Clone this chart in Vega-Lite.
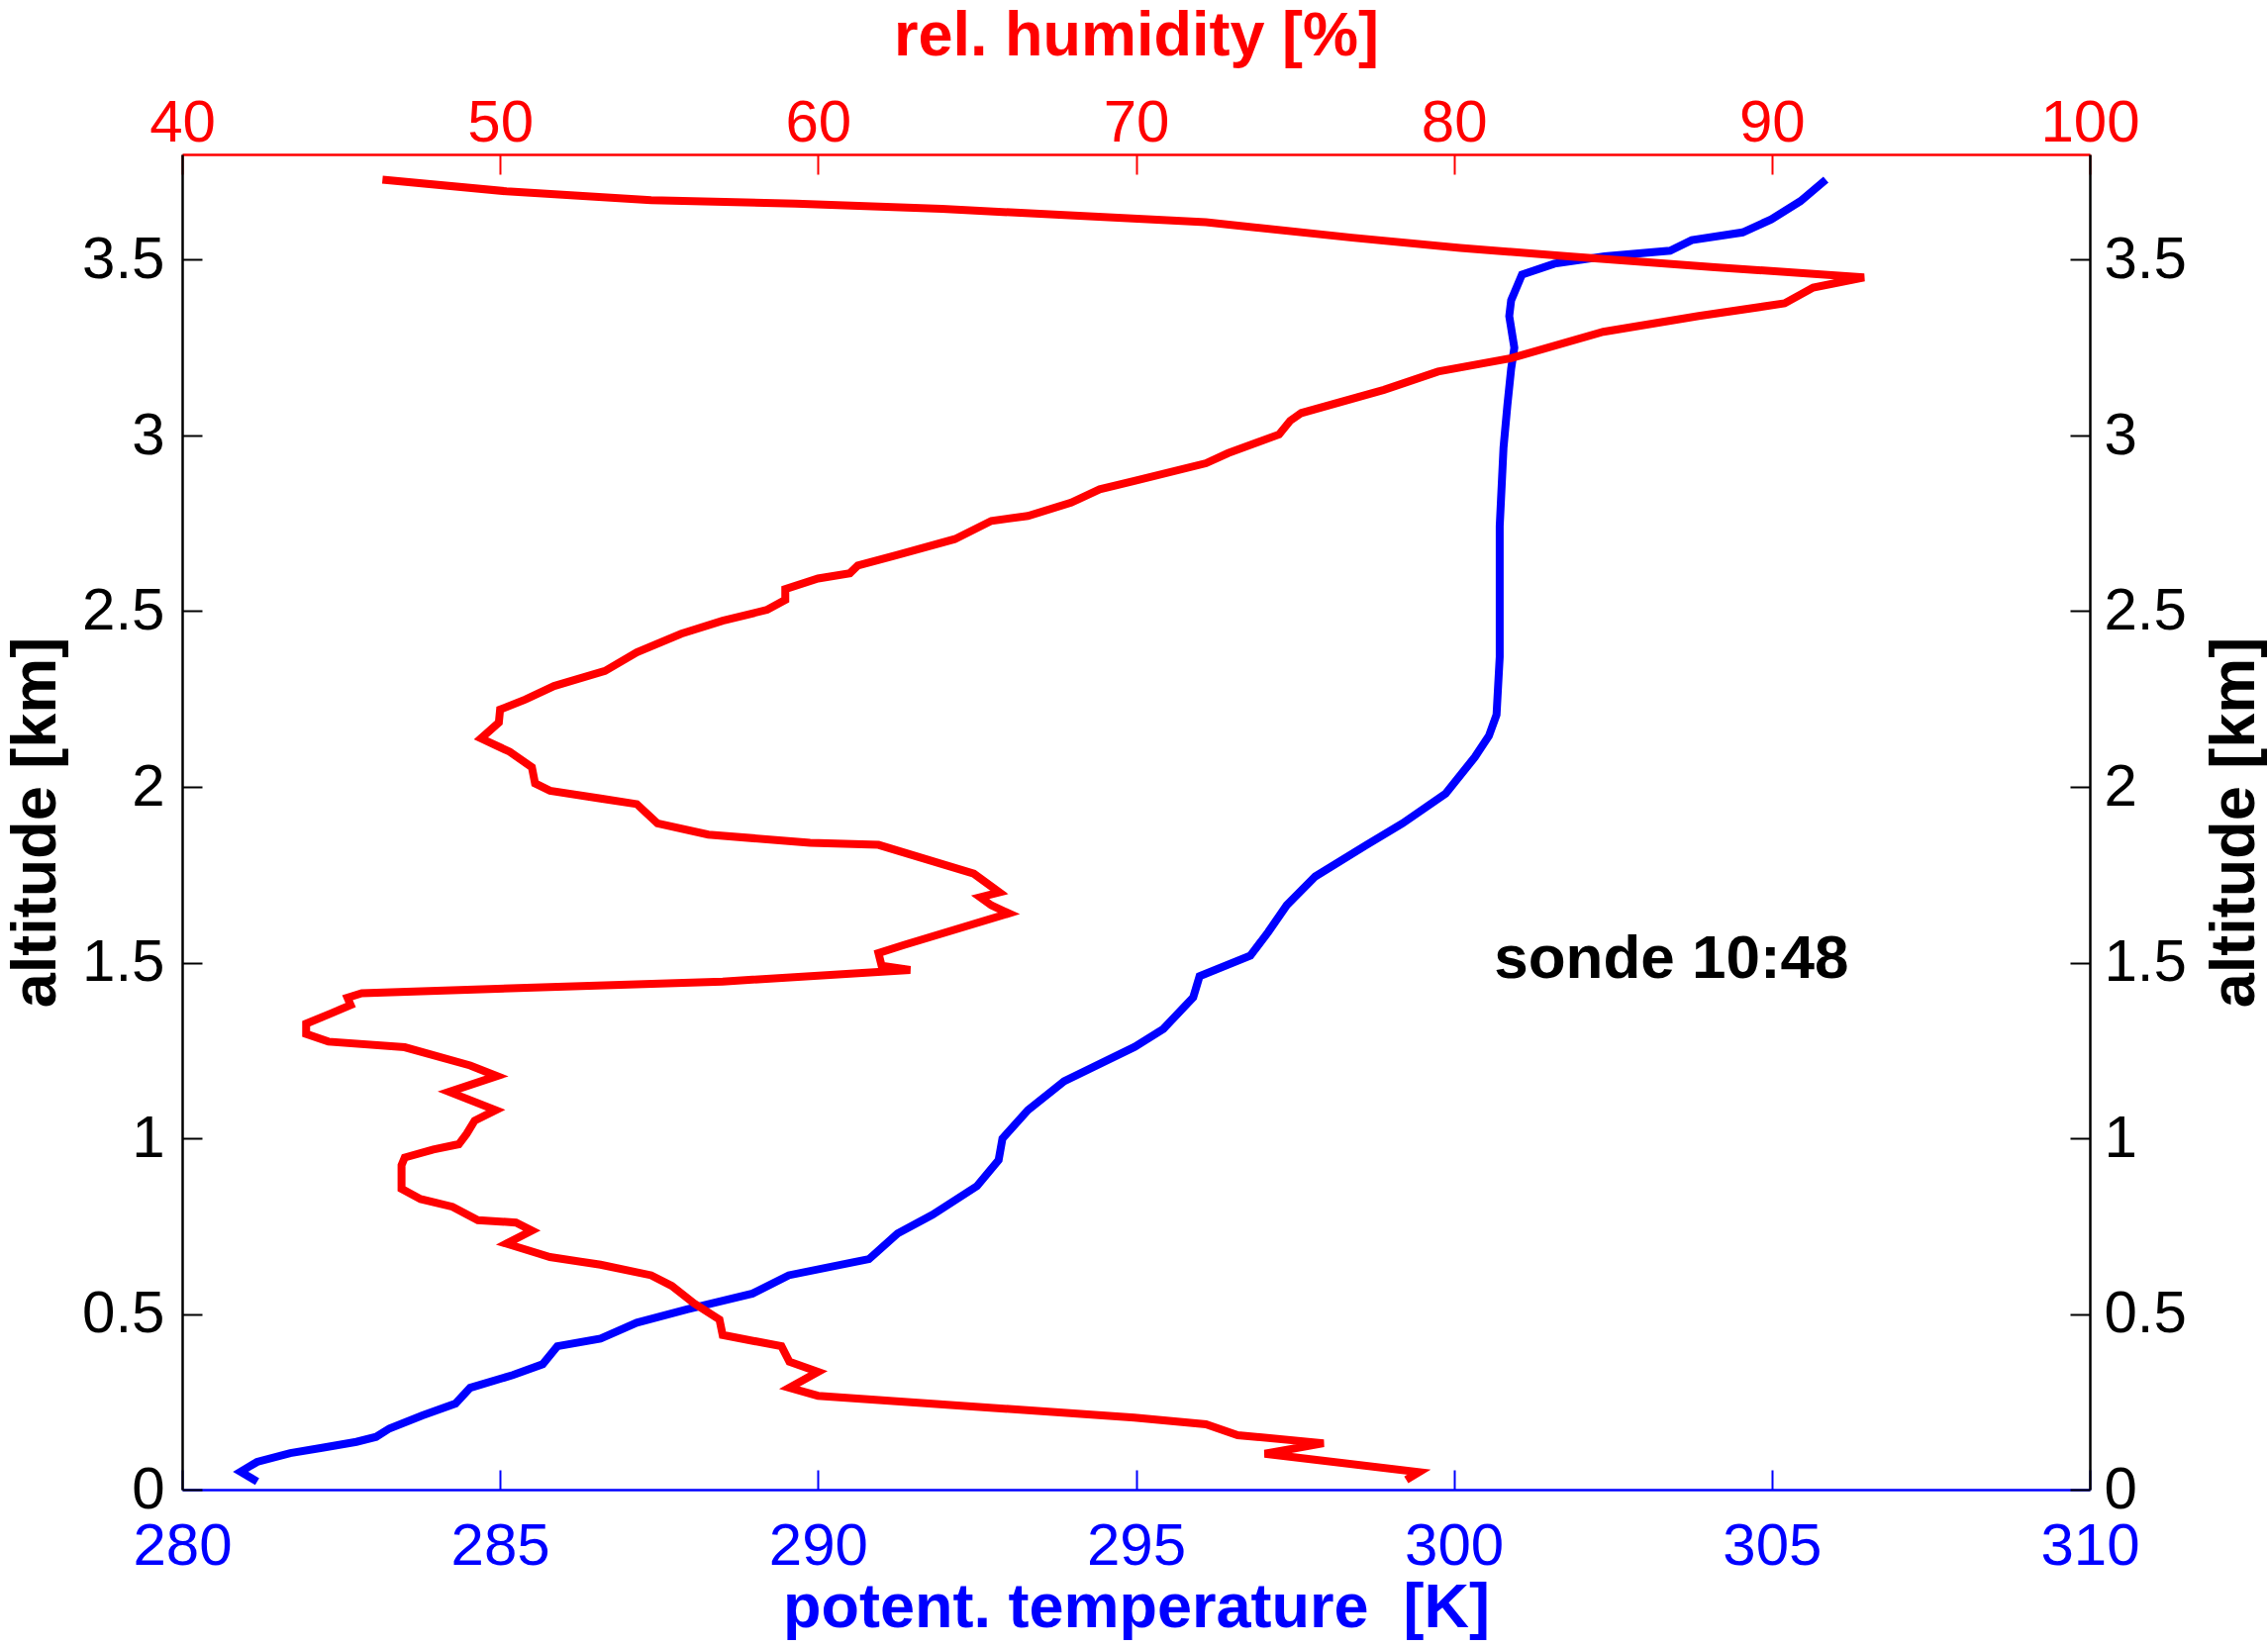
{
  "$schema": "https://vega.github.io/schema/vega-lite/v6.json",
  "description": "Sonde profile: potential temperature and relative humidity against altitude.",
  "width": 1927,
  "height": 1349,
  "autosize": "none",
  "padding": {"left": 184, "top": 156, "right": 180, "bottom": 159},
  "background": "white",
  "config": {
    "view": {"stroke": null},
    "axis": {
      "grid": false,
      "labelFont": "Liberation Sans",
      "titleFont": "Liberation Sans",
      "labelFontSize": 60,
      "titleFontSize": 63,
      "titleFontWeight": "bold",
      "labelFlush": false,
      "labelOverlap": false,
      "tickSize": -20,
      "tickWidth": 2,
      "domainWidth": 2.5
    }
  },
  "layer": [
    {
      "data": {"values": [
        {"alt": 0.023, "theta": 281.18}, {"alt": 0.051, "theta": 280.92}, {"alt": 0.079, "theta": 281.18},
        {"alt": 0.104, "theta": 281.7}, {"alt": 0.119, "theta": 282.2}, {"alt": 0.136, "theta": 282.74},
        {"alt": 0.15, "theta": 283.05}, {"alt": 0.174, "theta": 283.26}, {"alt": 0.211, "theta": 283.78},
        {"alt": 0.245, "theta": 284.3}, {"alt": 0.29, "theta": 284.53}, {"alt": 0.326, "theta": 285.2},
        {"alt": 0.357, "theta": 285.67}, {"alt": 0.408, "theta": 285.9}, {"alt": 0.43, "theta": 286.58},
        {"alt": 0.475, "theta": 287.15}, {"alt": 0.513, "theta": 287.94}, {"alt": 0.558, "theta": 288.97},
        {"alt": 0.61, "theta": 289.54}, {"alt": 0.656, "theta": 290.8}, {"alt": 0.729, "theta": 291.25},
        {"alt": 0.782, "theta": 291.8}, {"alt": 0.864, "theta": 292.5}, {"alt": 0.938, "theta": 292.84},
        {"alt": 0.999, "theta": 292.9}, {"alt": 1.08, "theta": 293.3}, {"alt": 1.162, "theta": 293.87},
        {"alt": 1.26, "theta": 294.98}, {"alt": 1.311, "theta": 295.43}, {"alt": 1.401, "theta": 295.9},
        {"alt": 1.461, "theta": 296.0}, {"alt": 1.52, "theta": 296.8}, {"alt": 1.587, "theta": 297.08},
        {"alt": 1.663, "theta": 297.37}, {"alt": 1.745, "theta": 297.82}, {"alt": 1.834, "theta": 298.62},
        {"alt": 1.896, "theta": 299.19}, {"alt": 1.981, "theta": 299.87}, {"alt": 2.085, "theta": 300.33},
        {"alt": 2.145, "theta": 300.55}, {"alt": 2.205, "theta": 300.67}, {"alt": 2.37, "theta": 300.72},
        {"alt": 2.742, "theta": 300.72}, {"alt": 2.966, "theta": 300.78}, {"alt": 3.085, "theta": 300.84},
        {"alt": 3.19, "theta": 300.9}, {"alt": 3.25, "theta": 300.95}, {"alt": 3.34, "theta": 300.87},
        {"alt": 3.385, "theta": 300.9}, {"alt": 3.458, "theta": 301.07}, {"alt": 3.489, "theta": 301.58},
        {"alt": 3.51, "theta": 302.37}, {"alt": 3.526, "theta": 303.4}, {"alt": 3.556, "theta": 303.74},
        {"alt": 3.578, "theta": 304.54}, {"alt": 3.615, "theta": 304.99}, {"alt": 3.667, "theta": 305.45},
        {"alt": 3.728, "theta": 305.85}
      ]},
      "layer": [
        {
          "mark": {"type": "line", "color": "#0000ff", "strokeWidth": 8},
          "encoding": {
            "x": {
              "field": "theta", "type": "quantitative",
              "scale": {"domain": [280, 310], "nice": false, "zero": false},
              "axis": {
                "orient": "bottom", "title": "potent. temperature\u00a0 [K]",
                "values": [280, 285, 290, 295, 300, 305, 310], "format": "d",
                "domainColor": "#0000ff", "tickColor": "#0000ff",
                "labelColor": "#0000ff", "titleColor": "#0000ff",
                "labelPadding": 48,
                "titleX": 963.5, "titleY": 119, "titleBaseline": "middle"
              }
            },
            "y": {
              "field": "alt", "type": "quantitative",
              "scale": {"domain": [0, 3.8], "nice": false},
              "axis": {
                "orient": "left", "title": "altitude [km]",
                "values": [0, 0.5, 1, 1.5, 2, 2.5, 3, 3.5], "format": "~g",
                "domainColor": "black", "tickColor": "black",
                "labelColor": "black", "titleColor": "black",
                "labelPadding": 38,
                "titleX": -148, "titleY": 674.5, "titleAngle": 270, "titleBaseline": "middle"
              }
            },
            "order": {"value": null}
          }
        },
        {
          "data": {"values": [{"theta": 303.42, "alt": 1.455, "label": "sonde 10:48"}]},
          "mark": {"type": "text", "font": "Liberation Sans", "fontSize": 62, "fontWeight": "bold", "color": "black", "align": "center", "baseline": "alphabetic"},
          "encoding": {
            "x": {"field": "theta", "type": "quantitative"},
            "y": {"field": "alt", "type": "quantitative"},
            "text": {"field": "label"}
          }
        }
      ]
    },
    {
      "data": {"values": [
        {"alt": 0.028, "rh": 78.5}, {"alt": 0.05, "rh": 78.9}, {"alt": 0.102, "rh": 74.05},
        {"alt": 0.132, "rh": 75.9}, {"alt": 0.155, "rh": 73.2}, {"alt": 0.186, "rh": 72.2},
        {"alt": 0.205, "rh": 69.95}, {"alt": 0.267, "rh": 60.0}, {"alt": 0.29, "rh": 59.1},
        {"alt": 0.335, "rh": 60.0}, {"alt": 0.364, "rh": 59.1}, {"alt": 0.408, "rh": 58.85},
        {"alt": 0.44, "rh": 57.0}, {"alt": 0.484, "rh": 56.9}, {"alt": 0.53, "rh": 56.1},
        {"alt": 0.58, "rh": 55.4}, {"alt": 0.61, "rh": 54.75}, {"alt": 0.64, "rh": 53.16},
        {"alt": 0.662, "rh": 51.57}, {"alt": 0.7, "rh": 50.2}, {"alt": 0.737, "rh": 51.0},
        {"alt": 0.76, "rh": 50.5}, {"alt": 0.767, "rh": 49.3}, {"alt": 0.805, "rh": 48.5},
        {"alt": 0.827, "rh": 47.5}, {"alt": 0.856, "rh": 46.9}, {"alt": 0.923, "rh": 46.9},
        {"alt": 0.945, "rh": 47.0}, {"alt": 0.968, "rh": 47.9}, {"alt": 0.983, "rh": 48.7},
        {"alt": 1.013, "rh": 48.95}, {"alt": 1.05, "rh": 49.2}, {"alt": 1.08, "rh": 49.86},
        {"alt": 1.132, "rh": 48.4}, {"alt": 1.177, "rh": 49.9}, {"alt": 1.207, "rh": 49.06},
        {"alt": 1.259, "rh": 47.0}, {"alt": 1.275, "rh": 44.6}, {"alt": 1.297, "rh": 43.9},
        {"alt": 1.326, "rh": 43.9}, {"alt": 1.356, "rh": 44.7}, {"alt": 1.379, "rh": 45.3},
        {"alt": 1.4, "rh": 45.2}, {"alt": 1.413, "rh": 45.65}, {"alt": 1.446, "rh": 57.0},
        {"alt": 1.479, "rh": 62.9}, {"alt": 1.491, "rh": 62.0}, {"alt": 1.527, "rh": 61.9},
        {"alt": 1.55, "rh": 62.7}, {"alt": 1.64, "rh": 66.0}, {"alt": 1.663, "rh": 65.45},
        {"alt": 1.686, "rh": 65.1}, {"alt": 1.7, "rh": 65.7}, {"alt": 1.753, "rh": 64.9},
        {"alt": 1.835, "rh": 61.9}, {"alt": 1.841, "rh": 59.75}, {"alt": 1.864, "rh": 56.55},
        {"alt": 1.896, "rh": 54.95}, {"alt": 1.951, "rh": 54.3}, {"alt": 1.967, "rh": 53.16},
        {"alt": 1.989, "rh": 51.57}, {"alt": 2.01, "rh": 51.1}, {"alt": 2.056, "rh": 51.0},
        {"alt": 2.1, "rh": 50.3}, {"alt": 2.138, "rh": 49.4}, {"alt": 2.183, "rh": 49.96},
        {"alt": 2.22, "rh": 50.0}, {"alt": 2.249, "rh": 50.8}, {"alt": 2.287, "rh": 51.7},
        {"alt": 2.33, "rh": 53.3}, {"alt": 2.383, "rh": 54.3}, {"alt": 2.436, "rh": 55.7},
        {"alt": 2.473, "rh": 57.0}, {"alt": 2.504, "rh": 58.4}, {"alt": 2.532, "rh": 58.97},
        {"alt": 2.563, "rh": 58.97}, {"alt": 2.593, "rh": 60.0}, {"alt": 2.608, "rh": 61.0},
        {"alt": 2.63, "rh": 61.25}, {"alt": 2.66, "rh": 62.5}, {"alt": 2.705, "rh": 64.3},
        {"alt": 2.757, "rh": 65.45}, {"alt": 2.771, "rh": 66.6}, {"alt": 2.809, "rh": 67.96},
        {"alt": 2.847, "rh": 68.86}, {"alt": 2.871, "rh": 69.95}, {"alt": 2.921, "rh": 72.2},
        {"alt": 2.95, "rh": 72.9}, {"alt": 3.003, "rh": 74.5}, {"alt": 3.042, "rh": 74.85},
        {"alt": 3.064, "rh": 75.2}, {"alt": 3.13, "rh": 77.8}, {"alt": 3.182, "rh": 79.5},
        {"alt": 3.22, "rh": 81.8}, {"alt": 3.295, "rh": 84.7}, {"alt": 3.34, "rh": 87.7},
        {"alt": 3.376, "rh": 90.4}, {"alt": 3.421, "rh": 91.3}, {"alt": 3.45, "rh": 92.9},
        {"alt": 3.479, "rh": 88.2}, {"alt": 3.51, "rh": 83.6}, {"alt": 3.534, "rh": 80.2},
        {"alt": 3.563, "rh": 76.8}, {"alt": 3.607, "rh": 72.2}, {"alt": 3.645, "rh": 63.9},
        {"alt": 3.66, "rh": 59.3}, {"alt": 3.67, "rh": 54.75}, {"alt": 3.695, "rh": 50.2},
        {"alt": 3.728, "rh": 46.3}
      ]},
      "mark": {"type": "line", "color": "#ff0000", "strokeWidth": 8},
      "encoding": {
        "x": {
          "field": "rh", "type": "quantitative",
          "scale": {"domain": [40, 100], "nice": false, "zero": false},
          "axis": {
            "orient": "top", "title": "rel. humidity [%]",
            "values": [40, 50, 60, 70, 80, 90, 100], "format": "d",
            "domainColor": "#ff0000", "tickColor": "#ff0000",
            "labelColor": "#ff0000", "titleColor": "#ff0000",
            "labelPadding": 21,
            "titleX": 963.5, "titleY": -120, "titleBaseline": "middle"
          }
        },
        "y": {
          "field": "alt", "type": "quantitative",
          "scale": {"domain": [0, 3.8], "nice": false},
          "axis": {
            "orient": "right", "title": "altitude [km]",
            "values": [0, 0.5, 1, 1.5, 2, 2.5, 3, 3.5], "format": "~g",
            "domainColor": "black", "tickColor": "black",
            "labelColor": "black", "titleColor": "black",
            "labelPadding": 34,
            "titleX": 146, "titleY": 674.5, "titleAngle": 270, "titleBaseline": "middle"
          }
        },
        "order": {"value": null}
      }
    }
  ],
  "resolve": {
    "scale": {"x": "independent"},
    "axis": {"x": "independent", "y": "independent"}
  }
}
